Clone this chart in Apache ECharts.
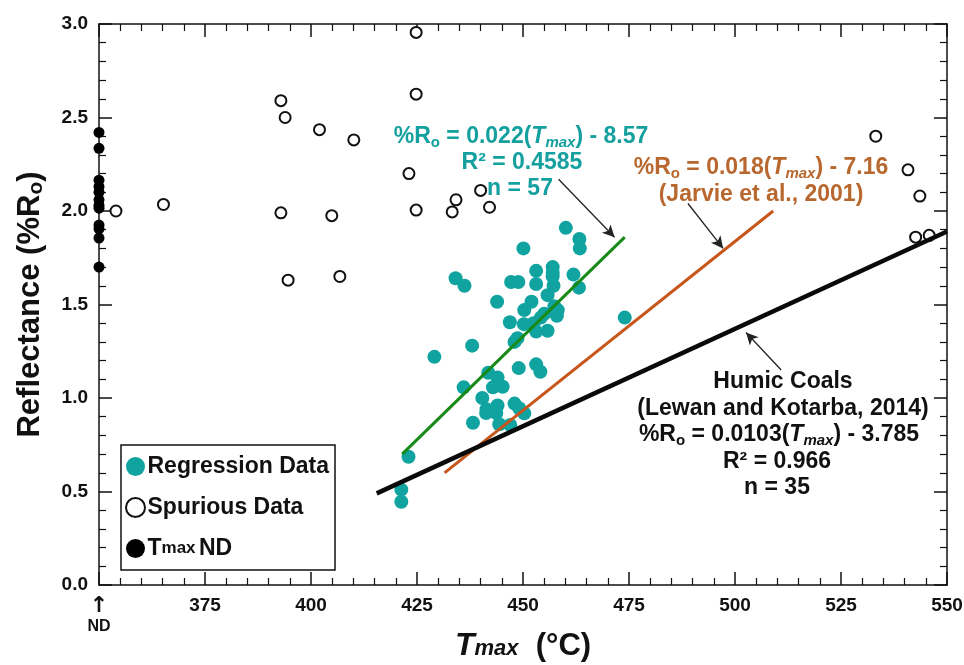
<!DOCTYPE html>
<html>
<head>
<meta charset="utf-8">
<script src="https://cdn.jsdelivr.net/npm/echarts@6/dist/echarts.min.js"></script>
<style>
  html, body { margin: 0; padding: 0; background: #fff; }
  #chart { width: 964px; height: 665px; }
</style>
</head>
<body>
<div id="chart"></div>
<script>
// regression data (n = 57)
const regX = [460.1, 463.3, 463.4, 450.1, 453.1, 457.0, 457.0, 447.2, 448.9, 453.1,
  461.9, 457.2, 463.2, 434.1, 436.2, 455.8, 452.0, 443.9, 457.4, 450.3,
  458.0, 454.2, 446.9, 450.2, 455.8, 453.1, 474.0, 448.7, 448.0, 438.0,
  429.1, 449.0, 453.1, 454.1, 441.8, 444.0, 436.0, 442.9, 445.2, 440.4,
  448.0, 441.4, 444.0, 450.3, 438.2, 443.7, 444.4, 447.0, 449.1, 423.0,
  421.3, 421.3, 441.3, 455.0, 452.5, 458.2, 457.0];
const regY = [1.91, 1.85, 1.80, 1.80, 1.68, 1.70, 1.65, 1.62, 1.62, 1.61,
  1.66, 1.60, 1.59, 1.64, 1.60, 1.55, 1.515, 1.515, 1.49, 1.47,
  1.44, 1.43, 1.405, 1.395, 1.36, 1.355, 1.43, 1.32, 1.30, 1.28,
  1.22, 1.16, 1.18, 1.14, 1.135, 1.11, 1.057, 1.057, 1.06, 1.00,
  0.97, 0.94, 0.96, 0.918, 0.868, 0.92, 0.86, 0.856, 0.945, 0.686,
  0.51, 0.445, 0.92, 1.45, 1.40, 1.47, 1.67];

// spurious data
const spX = [354.0, 365.2, 392.9, 393.9, 392.9, 394.6, 402.0, 404.9, 406.8, 410.1,
  423.1, 424.8, 424.8, 424.8, 433.3, 434.2, 440.0, 442.1, 533.2, 540.8,
  543.6, 542.6, 545.8];
const spY = [2.00, 2.035, 2.59, 2.50, 1.99, 1.63, 2.435, 1.975, 1.65, 2.38,
  2.20, 2.955, 2.625, 2.005, 1.995, 2.06, 2.11, 2.02, 2.40, 2.22,
  2.08, 1.86, 1.87];

// Tmax not determined, plotted on the axis
const ndX = 350;
const ndY = [2.42, 2.335, 2.165, 2.13, 2.10, 2.06, 2.03, 2.015, 1.925, 1.905, 1.855, 1.70];

// regression lines (end points)
const lineThis = [[421.5, 0.70], [474, 1.86]];
const lineJarvie = [[431.5, 0.60], [509, 2.00]];
const lineHumic = [[415.5, 0.49], [550, 1.89]];

// annotation arrows [from, to]
const arrows = [
  [[458.4, 2.17], [471.6, 1.86]],
  [[488.9, 2.04], [497.2, 1.80]],
  [[510.9, 1.15], [502.6, 1.35]]
];

const xMin = 350, xMax = 550, xStep = 25;
const yMin = 0, yMax = 3, yStep = 0.5;

const TEAL = '#10a3a0';
const TEAL_TXT = '#13a09e';
const GREEN = '#178a17';
const ORANGE = '#c8561b';
const ORANGE_TXT = '#b8682e';
const FONT = 'Arial, "Liberation Sans", sans-serif';

function zip(xs, ys) { return xs.map((x, i) => [x, ys[i]]); }

function rich(color) {
  return {
    a: { fontSize: 23, fontWeight: 'bold', fontFamily: FONT, fill: color, color: color, lineHeight: 26 },
    i: { fontSize: 23, fontWeight: 'bold', fontStyle: 'italic', fontFamily: FONT, fill: color, color: color, lineHeight: 26 },
    s: { fontSize: 15, fontWeight: 'bold', fontFamily: FONT, fill: color, color: color, lineHeight: 14, verticalAlign: 'bottom' },
    si: { fontSize: 15, fontWeight: 'bold', fontStyle: 'italic', fontFamily: FONT, fill: color, color: color, lineHeight: 14, verticalAlign: 'bottom' }
  };
}

// text lines of the three annotations: [x, y, text, color]
const notes = [
  [521, 137, '{a|%R}{s|o}{a| = 0.022(}{i|T}{si|max}{a|) - 8.57}', TEAL_TXT],
  [522, 163, '{a|R² = 0.4585}', TEAL_TXT],
  [520, 189, '{a|n = 57}', TEAL_TXT],
  [761, 168, '{a|%R}{s|o}{a| = 0.018(}{i|T}{si|max}{a|) - 7.16}', ORANGE_TXT],
  [761, 195, '{a|(Jarvie et al., 2001)}', ORANGE_TXT],
  [783, 382, '{a|Humic Coals}', '#111'],
  [783, 409, '{a|(Lewan and Kotarba, 2014)}', '#111'],
  [779, 435, '{a|%R}{s|o}{a| = 0.0103(}{i|T}{si|max}{a|) - 3.785}', '#111'],
  [777, 462, '{a|R² = 0.966}', '#111'],
  [777, 488, '{a|n = 35}', '#111']
];

const chart = echarts.init(document.getElementById('chart'));

const axisLineStyle = { color: '#111', width: 1.5 };
function makeX(pos, showLabel) {
  return {
    type: 'value', position: pos, min: xMin, max: xMax, interval: xStep,
    axisLine: { show: true, onZero: false, lineStyle: axisLineStyle },
    axisTick: { show: true, inside: true, length: 13, lineStyle: { color: '#111', width: 1.5 } },
    minorTick: { show: true, splitNumber: 5, length: 7, lineStyle: { color: '#111', width: 1.2 } },
    splitLine: { show: false },
    axisLabel: {
      show: showLabel, margin: 11, color: '#111', fontFamily: FONT, fontWeight: 'bold', fontSize: 19,
      formatter: v => v === xMin ? '{arr|↑}\n{nd|ND}' : String(v),
      rich: {
        arr: { fontSize: 22, fontWeight: 'bold', color: '#111', lineHeight: 20, fontFamily: 'DejaVu Sans' },
        nd: { fontSize: 16, fontWeight: 'bold', color: '#111', fontFamily: FONT, lineHeight: 22 }
      }
    }
  };
}
function makeY(pos, showLabel) {
  return {
    type: 'value', position: pos, min: yMin, max: yMax, interval: yStep,
    axisLine: { show: true, onZero: false, lineStyle: axisLineStyle },
    axisTick: { show: true, inside: true, length: 13, lineStyle: { color: '#111', width: 1.5 } },
    minorTick: { show: true, splitNumber: 5, length: 7, lineStyle: { color: '#111', width: 1.2 } },
    splitLine: { show: false },
    axisLabel: {
      show: showLabel, margin: 11, color: '#111', fontFamily: FONT, fontWeight: 'bold', fontSize: 19,
      formatter: v => v.toFixed(1)
    }
  };
}

const xBottom = makeX('bottom', true);
xBottom.name = '{t|T}{s|max}{n|  (°C)}';
xBottom.nameLocation = 'middle';
xBottom.nameGap = 47;
xBottom.nameMoveOverlap = false;
xBottom.nameTextStyle = {
  verticalAlign: 'top',
  rich: {
    t: { fontSize: 32, fontWeight: 'bold', fontStyle: 'italic', fontFamily: FONT, color: '#111', lineHeight: 28 },
    s: { fontSize: 22, fontWeight: 'bold', fontStyle: 'italic', fontFamily: FONT, color: '#111', lineHeight: 14, verticalAlign: 'bottom' },
    n: { fontSize: 31, fontWeight: 'bold', fontFamily: FONT, color: '#111', lineHeight: 28 }
  }
};

const yLeft = makeY('left', true);
yLeft.name = '{a|Reflectance (%R}{s|o}{a|)}';
yLeft.nameLocation = 'middle';
yLeft.nameRotate = 90;
yLeft.nameGap = 52;
yLeft.nameMoveOverlap = false;
yLeft.nameTextStyle = {
  rich: {
    a: { fontSize: 31, fontWeight: 'bold', fontFamily: FONT, color: '#111', lineHeight: 34 },
    s: { fontSize: 21, fontWeight: 'bold', fontFamily: FONT, color: '#111', lineHeight: 20, verticalAlign: 'bottom' }
  }
};

function lineSeries(name, data, color, width) {
  return {
    name: name, type: 'line', data: data, showSymbol: false, symbol: 'none', silent: true,
    lineStyle: { color: color, width: width }, z: 3, animation: false
  };
}

const option = {
  animation: false,
  backgroundColor: '#fff',
  grid: { left: 99, right: 17, top: 24, bottom: 80, containLabel: false, outerBoundsMode: 'none' },
  xAxis: [xBottom, makeX('top', false)],
  yAxis: [yLeft, makeY('right', false)],
  legend: {
    show: true, orient: 'vertical', left: 121, top: 445,
    data: ['Regression Data', 'Spurious Data', 'Tmax ND'],
    selectedMode: false,
    backgroundColor: '#fff', borderColor: '#111', borderWidth: 1.5,
    padding: [10, 6, 10, 4], itemGap: 18, itemWidth: 20, itemHeight: 19,
    formatter: n => n === 'Tmax ND' ? '{b|T}{m|max}{b| ND}' : '{b|' + n + '}',
    textStyle: {
      color: '#111',
      rich: {
        b: { fontSize: 23, fontWeight: 'bold', fontFamily: FONT, color: '#111', lineHeight: 20, padding: [0, 0, 0, -3] },
        m: { fontSize: 17, fontWeight: 'bold', fontFamily: FONT, color: '#111', lineHeight: 20 }
      }
    }
  },
  series: [
    {
      name: 'Spurious Data', type: 'scatter', data: zip(spX, spY),
      symbol: 'emptyCircle', symbolSize: 11,
      itemStyle: { color: '#111', borderColor: '#111', borderWidth: 1.5, opacity: 1 },
      z: 2
    },
    {
      name: 'Tmax ND', type: 'scatter', data: ndY.map(y => [ndX, y]),
      symbol: 'circle', symbolSize: 11, clip: false,
      itemStyle: { color: '#000', opacity: 1 }, z: 4
    },
    {
      name: 'Regression Data', type: 'scatter', data: zip(regX, regY),
      symbol: 'circle', symbolSize: 14,
      itemStyle: { color: TEAL, opacity: 1 }, z: 2,
      markLine: {
        silent: true, animation: false,
        symbol: ['none', 'arrow'], symbolSize: [9, 12],
        label: { show: false },
        lineStyle: { color: '#222', width: 1.3, type: 'solid', opacity: 1 },
        data: arrows.map(a => [{ coord: a[0] }, { coord: a[1] }])
      }
    },
    lineSeries('this study', lineThis, GREEN, 3),
    lineSeries('Jarvie', lineJarvie, ORANGE, 3),
    lineSeries('Humic coals', lineHumic, '#0a0a0a', 4.5)
  ],
  graphic: notes.map(n => ({
    type: 'text', x: n[0], y: n[1], z: 50, silent: true,
    style: {
      text: n[2], fill: n[3], align: 'center', verticalAlign: 'middle',
      font: 'bold 23px ' + FONT, rich: rich(n[3])
    }
  }))
};

chart.setOption(option);
</script>
</body>
</html>
